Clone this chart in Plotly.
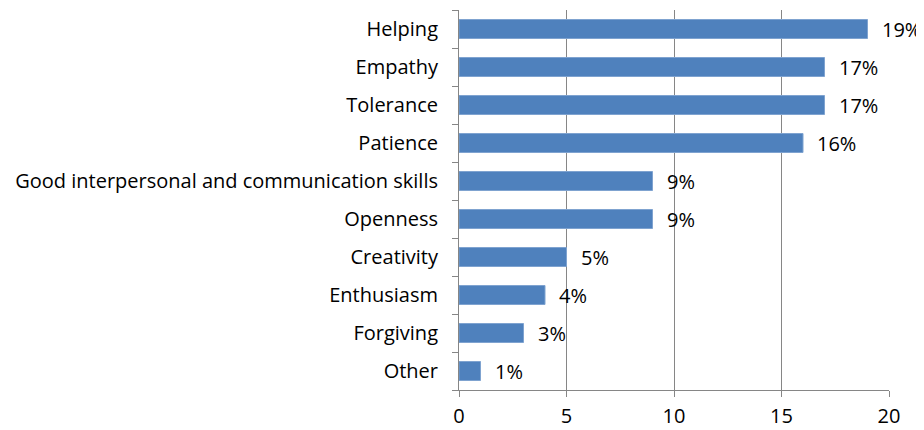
import plotly.graph_objects as go

categories = ["Helping", "Empathy", "Tolerance", "Patience",
              "Good interpersonal and communication skills", "Openness",
              "Creativity", "Enthusiasm", "Forgiving", "Other"]
values = [19, 17, 17, 16, 9, 9, 5, 4, 3, 1]
labels = ["19%", "17%", "17%", "16%", "9%", "9%", "5%", "4%", "3%", "1%"]
x_ticks = [0, 5, 10, 15, 20]

FONT = "Open Sans"
FS = 20
GRID = "#868686"

fig = go.Figure()
fig.add_trace(go.Bar(
    y=categories, x=values, orientation="h",
    marker=dict(color="#4F81BD", line=dict(color="#7FA3D0", width=1)),
    width=0.5, showlegend=False, hoverinfo="skip",
))
for c, v, t in zip(categories, values, labels):
    fig.add_annotation(x=v, y=c, text=t, showarrow=False, xanchor="left",
                       xshift=12, font=dict(family=FONT, size=FS, color="#000"))

fig.update_layout(
    width=916, height=422,
    margin=dict(l=451, r=35, t=2, b=40, autoexpand=False),
    plot_bgcolor="white", paper_bgcolor="white",
    font=dict(family=FONT, size=FS, color="#000"),
    bargap=0.5,
)
fig.update_xaxes(
    range=[0, 20], tickvals=x_ticks, showgrid=True, gridcolor=GRID, gridwidth=1,
    showline=True, linecolor=GRID, linewidth=1, ticks="outside", ticklen=6,
    tickcolor=GRID, zeroline=False, ticklabelstandoff=2, automargin=False,
)
fig.update_yaxes(
    categoryorder="array", categoryarray=categories[::-1], autorange=True,
    showline=True, linecolor=GRID, linewidth=1, ticks="outside", ticklen=6,
    tickcolor=GRID, tickson="boundaries", showgrid=False, ticklabelstandoff=16,
    automargin=False,
)
fig.write_html("out.html")
